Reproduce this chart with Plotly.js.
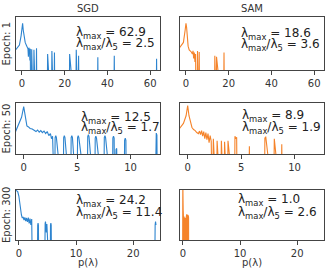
<!DOCTYPE html>
<html>
<head>
<meta charset="utf-8">
<script src="https://cdn.plot.ly/plotly-3.0.1.min.js"></script>
<style>html,body{margin:0;padding:0;background:#fff;}#chart{width:332px;height:275px;}</style>
</head>
<body>
<div id="chart"></div>
<script>
// ---- data (density on a scaled log axis; -1 = below the plot floor, i.e. zero density) ----
const rowEpochs = ['Epoch: 1', 'Epoch: 50', 'Epoch: 300'];
const colNames = ['SGD', 'SAM'];

const sgd1_x = [-3, -1.2, -0.4, 0.0, 0.3, 0.6, 1.0, 1.5, 2.0, 2.5, 2.8, 3.0, 3.2, 3.5, 3.7, 3.9, 4.1,
  4.3, 4.55, 4.8, 5.35, 5.6, 5.85, 6.55, 6.8, 7.05, 11.75, 12.0, 12.25, 13.75, 14.0, 14.25, 14.95, 15.2, 15.45,
  22.05, 22.3, 22.55, 25.15, 25.4, 25.65, 26.25, 26.5, 26.75, 35.25, 35.5, 35.75, 42.95, 43.2, 43.45, 62.75, 63.0, 63.25];
const sgd1_y = [0.38, 0.47, 0.65, 0.80, 0.88, 0.75, 0.62, 0.52, 0.47, 0.42, 0.40, 0.25, 0.42, 0.38, 0.18, 0.40, -1,
  -1, 0.39, -1, -1, 0.38, -1, -1, 0.41, -1, -1, 0.30, -1, -1, 0.36, -1, -1, 0.33, -1,
  -1, 0.30, -1, -1, 0.38, -1, -1, 0.27, -1, -1, 0.24, -1, -1, 0.27, -1, -1, 0.21, -1];

const sam1_x = [-3, -1.2, -0.4, 0.0, 0.3, 0.7, 1.0, 1.5, 2.0, 2.5, 3.0, 3.3, 3.6, 3.9, 4.2, 4.5, 4.7,
  5.15, 5.4, 5.65, 5.95, 6.2, 6.45, 13.25, 13.5, 13.75, 14.05, 14.3, 14.55, 17.55, 17.8, 18.05];
const sam1_y = [0.42, 0.52, 0.75, 0.88, 0.80, 0.55, 0.45, 0.38, 0.36, 0.34, 0.30, 0.36, 0.22, 0.33, 0.15, 0.30, -1,
  -1, 0.36, -1, -1, 0.34, -1, -1, 0.27, -1, -1, 0.25, -1, -1, 0.33, -1];

const sgd2_x = [-0.8, -0.5, -0.2, 0.0, 0.15, 0.3, 0.45, 0.6, 0.8, 1.0, 1.15, 1.3, 1.45, 1.6, 1.75, 1.9, 2.05, 2.2, 2.35, 2.5, 2.6, 2.7, 2.8, 2.9,
  2.89, 2.94, 3.0, 3.06, 3.11, 3.69, 3.74, 3.8, 3.86, 3.91, 4.39, 4.44, 4.5, 4.56, 4.61, 4.99, 5.04, 5.1, 5.16, 5.21,
  5.94, 5.99, 6.05, 6.11, 6.16, 6.64, 6.69, 6.75, 6.81, 6.86, 7.49, 7.54, 7.6, 7.66, 7.71, 8.29, 8.34, 8.4, 8.46, 8.51,
  8.64, 8.7, 8.76, 9.39, 9.44, 9.5, 9.56, 9.61, 12.29, 12.34, 12.4, 12.46, 12.51];
const sgd2_y = [0.42, 0.57, 0.72, 0.93, 0.70, 0.55, 0.53, 0.50, 0.49, 0.47, 0.44, 0.47, 0.43, 0.46, 0.42, 0.45, 0.40, 0.44, 0.36, 0.40, 0.30, 0.35, 0.20, -1,
  -1, 0.32, 0.36, 0.32, -1, -1, 0.32, 0.36, 0.32, -1, -1, 0.32, 0.36, 0.32, -1, -1, 0.32, 0.36, 0.32, -1,
  -1, 0.34, 0.38, 0.34, -1, -1, 0.31, 0.35, 0.31, -1, -1, 0.32, 0.36, 0.32, -1, -1, 0.31, 0.35, 0.31, -1,
  0.09, 0.11, -1, -1, 0.27, 0.31, 0.27, -1, -1, 0.37, 0.41, 0.37, -1];

const sam2_x = [-0.8, -0.4, -0.15, 0.0, 0.12, 0.25, 0.4, 0.55, 0.7, 0.85, 1.0, 1.1, 1.2, 1.3, 1.4, 1.5, 1.6, 1.7, 1.8, 1.9, 2.0, 2.1, 2.2, 2.3,
  2.34, 2.4, 2.46, 2.69, 2.75, 2.81, 3.09, 3.15, 3.21, 3.39, 3.45, 3.51, 3.71, 3.77, 3.83,
  4.37, 4.42, 4.5, 4.58, 4.63, 5.71, 5.77, 5.83, 7.17, 7.22, 7.3, 7.36, 8.04, 8.1, 8.16, 8.74, 8.8, 8.86];
const sam2_y = [0.49, 0.60, 0.75, 0.95, 0.75, 0.62, 0.52, 0.48, 0.46, 0.42, 0.40, 0.45, 0.38, 0.46, 0.35, 0.44, 0.30, 0.42, 0.28, 0.40, 0.22, 0.36, 0.25, -1,
  -1, 0.30, -1, -1, 0.26, -1, -1, 0.26, -1, -1, 0.24, -1, -1, 0.26, -1,
  -1, 0.35, 0.30, 0.33, -1, -1, 0.15, -1, -1, 0.31, 0.34, -1, -1, 0.30, -1, -1, 0.19, -1];

const sgd3_x = [-0.6, -0.2, 0.0, 0.15, 0.3, 0.45, 0.6, 0.75, 0.9, 1.05, 1.2, 1.35, 1.5, 1.65, 1.8, 1.95, 2.1, 2.25, 2.4,
  3.2, 3.3, 3.36, 3.42, 3.52, 4.5, 4.6, 4.66, 4.72, 4.8, 4.9, 5.0, 5.45, 5.54, 5.6, 5.66, 5.75,
  23.75, 23.85, 23.92, 24.0];
const sgd3_y = [1.0, 0.97, 0.88, 0.72, 0.60, 0.50, 0.44, 0.46, 0.40, 0.45, 0.38, 0.44, 0.36, 0.45, 0.33, 0.43, 0.30, 0.42, -1,
  -1, 0.30, 0.34, 0.30, -1, -1, 0.33, 0.37, 0.30, 0.15, 0.32, -1, -1, 0.30, 0.34, 0.30, -1,
  -1, 0.30, 0.37, 0.30];

const sam3_x = [-0.05, -0.04, 0.0, 0.05, 0.1, 0.2, 0.25, 0.35, 0.4, 0.5, 0.55, 0.65, 0.7, 0.8, 0.85, 0.95, 1.0, 1.02];
const sam3_y = [-1, 1.1, 1.1, 0.6, 0.45, 0.47, 0.42, 0.44, 0.42, 0.41, 0.42, 0.50, 0.51, 0.47, 0.50, 0.48, 0.45, -1];

const lamMax = [[62.9, 18.6], [12.5, 8.9], [24.2, 1.0]];
const lamRatio = [[2.5, 3.6], [1.7, 1.9], [11.4, 2.6]];

const rowTicks = [[0, 20, 40, 60], [0, 5, 10], [0, 10, 20]];
const rowRanges = [[-2.8, 64.6], [-0.72, 12.75], [-0.5, 24.7]];

// ---- layout geometry (pixels) ----
const W = 332, H = 275;
const colPx = [[16, 160], [180, 324]];
const rowPx = [[17, 70], [103, 154], [190, 240]];
const BLUE = '#2d84cf', ORANGE = '#f5832a';
const FONT = 'DejaVu Sans';
const fx = p => p / W, fy = p => 1 - p / H;

const series = [[[sgd1_x, sgd1_y], [sam1_x, sam1_y]], [[sgd2_x, sgd2_y], [sam2_x, sam2_y]], [[sgd3_x, sgd3_y], [sam3_x, sam3_y]]];

const traces = [];
const layout = {
  width: W, height: H, margin: {l: 0, r: 0, t: 0, b: 0},
  paper_bgcolor: '#fff', plot_bgcolor: '#fff', showlegend: false,
  font: {family: FONT, size: 10, color: '#333'},
  annotations: []
};

let k = 0;
for (let r = 0; r < 3; r++) {
  for (let c = 0; c < 2; c++) {
    k++;
    const xa = 'xaxis' + (k === 1 ? '' : k), ya = 'yaxis' + (k === 1 ? '' : k);
    const xr = 'x' + (k === 1 ? '' : k), yr = 'y' + (k === 1 ? '' : k);
    const [sx, sy] = series[r][c];
    const t = {x: sx, y: sy, xaxis: xr, yaxis: yr, type: 'scatter', mode: 'lines',
      line: {color: c === 0 ? BLUE : ORANGE, width: 1.1}, hoverinfo: 'skip'};
    if (r === 2 && c === 1) { t.fill = 'tozeroy'; t.fillcolor = ORANGE; }
    traces.push(t);
    layout[xa] = {domain: [fx(colPx[c][0]), fx(colPx[c][1])], anchor: yr, range: rowRanges[r],
      tickvals: rowTicks[r], ticks: 'outside', ticklen: 3.5, tickwidth: 1, tickcolor: '#444',
      showline: true, mirror: true, linecolor: '#444', linewidth: 1, showgrid: false, zeroline: false,
      tickfont: {size: 10, color: '#333', family: FONT}};
    layout[ya] = {domain: [fy(rowPx[r][1]), fy(rowPx[r][0])], anchor: xr, range: [0, 1],
      showticklabels: false, ticks: '', showline: true, mirror: true, linecolor: '#444', linewidth: 1,
      showgrid: false, zeroline: false};
  }
}

const annX = [[74, 239], [79, 240], [74, 236]];
const annBase = [[[31.7, 42.7], [32.3, 43.3]], [[116, 126.7], [115, 126]], [[199.3, 211.7], [198.3, 211.7]]];
for (let r = 0; r < 3; r++) {
  for (let c = 0; c < 2; c++) {
    const lines = ['λ<sub>max</sub> = ' + lamMax[r][c].toFixed(1), 'λ<sub>max</sub>/λ<sub>5</sub> = ' + lamRatio[r][c].toFixed(1)];
    lines.forEach((txt, i) => {
      layout.annotations.push({text: txt, xref: 'paper', yref: 'paper', x: fx(annX[r][c]), y: fy(annBase[r][c][i] + 1.5),
        xanchor: 'left', yanchor: 'middle', showarrow: false, font: {family: FONT, size: 12, color: '#222'}});
    });
  }
}
// column titles
colNames.forEach((n, c) => layout.annotations.push({text: n, xref: 'paper', yref: 'paper',
  x: fx((colPx[c][0] + colPx[c][1]) / 2), y: fy(9), xanchor: 'center', yanchor: 'middle', showarrow: false,
  font: {family: FONT, size: 10, color: '#333'}}));
// row titles
rowEpochs.forEach((n, r) => layout.annotations.push({text: n, xref: 'paper', yref: 'paper', textangle: -90,
  x: fx(6), y: fy((rowPx[r][0] + rowPx[r][1]) / 2), xanchor: 'center', yanchor: 'middle', showarrow: false,
  font: {family: FONT, size: 10, color: '#333'}}));
// x titles
for (let c = 0; c < 2; c++) layout.annotations.push({text: 'p(λ)', xref: 'paper', yref: 'paper',
  x: fx((colPx[c][0] + colPx[c][1]) / 2), y: fy(262), xanchor: 'center', yanchor: 'middle', showarrow: false,
  font: {family: FONT, size: 10, color: '#333'}});

Plotly.newPlot('chart', traces, layout, {staticPlot: true, displayModeBar: false});
</script>
</body>
</html>
